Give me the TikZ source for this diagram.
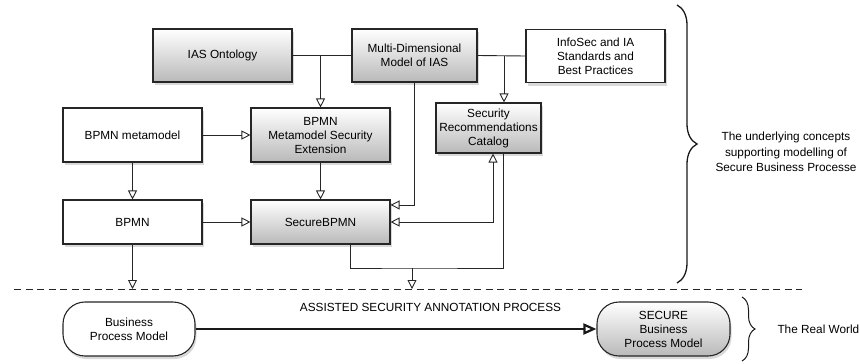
\documentclass[tikz,border=0pt]{standalone}
\usepackage{fontspec}
\setmainfont{Liberation Sans}
\usetikzlibrary{arrows.meta,shadows,decorations.pathreplacing,calc}
\begin{document}
\begin{tikzpicture}[x=1pt,y=-1pt,
  box/.style={draw=black!85, line width=1.1pt, minimum width=139pt, minimum height=53pt,
    align=center, font=\fontsize{11.8}{14}\selectfont, inner sep=2pt,
    drop shadow={shadow xshift=1.5pt, shadow yshift=-3pt, opacity=0.3}},
  wbox/.style={box, fill=white},
  gbox/.style={box, top color=white, bottom color=gray!55},
  conn/.style={line width=0.9pt, draw=black!85},
  tip/.style={-{Triangle[open,length=9pt,width=9pt]}},
  lbl/.style={font=\fontsize{11.8}{14}\selectfont, align=center},
  brc/.style={decorate, line width=1.3pt, draw=black!90},
]
\useasboundingbox (0,0) rectangle (860,364);

\node[gbox] (ias) at (222.5,55.5) {IAS Ontology};
\node[gbox, minimum width=125pt] (multi) at (414.5,55.5) {Multi-Dimensional\\Model of IAS};
\node[wbox] (info) at (595.5,56) {InfoSec and IA\\Standards and\\Best Practices};
\node[wbox, minimum height=54pt] (meta) at (132.5,135) {BPMN metamodel};
\node[gbox, minimum height=54pt] (ext) at (320.5,135) {BPMN\\Metamodel Security\\Extension};
\node[gbox, minimum width=105pt, minimum height=50pt] (rec) at (488.5,128) {Security\\Recommendations\\Catalog};
\node[wbox, minimum height=44pt] (bpmn) at (132.5,222) {BPMN};
\node[gbox, minimum height=44pt] (sec) at (320.5,222) {SecureBPMN};
\node[wbox, minimum width=132pt, minimum height=54pt, rounded corners=22pt] (bpm) at (129,329) {Business\\Process Model};
\node[gbox, minimum width=133pt, minimum height=54pt, rounded corners=22pt] (sbpm) at (663.5,329) {SECURE\\Business\\Process Model};

% top row connections
\draw[conn] (ias.east) -- (multi.west);
\draw[conn] (multi.east) -- (info.west);
\coordinate (j1) at (320.5,55.5);
\coordinate (j2) at (504,55.5);
\draw[conn, tip] (j1) -- (ext.north);
\draw[conn, tip] (j2) -- (j2 |- rec.north);

% middle
\draw[conn, tip] (meta.east) -- (ext.west);
\draw[conn, tip] (meta.south) -- (bpmn.north);
\draw[conn, tip] (ext.south) -- (sec.north);
\draw[conn, tip] (bpmn.east) -- (sec.west);

\coordinate (m1) at ($(sec.north east)+(0,5.5)$);
\draw[conn, tip] (multi.south) |- (m1);
\coordinate (r1) at (493,0);
\draw[conn, {Triangle[open,length=9pt,width=9pt]}-{Triangle[open,length=9pt,width=9pt]}] (sec.east) -| (r1 |- rec.south);

\coordinate (s1) at (350,0);
\coordinate (r2) at (503,0);
\coordinate (jb) at (412,268);
\draw[conn] (s1 |- sec.south) |- (jb) -| (r2 |- rec.south);

% dashed separator
\coordinate (dl) at (14,289);
\coordinate (dr) at (802,289);
\draw[line width=0.9pt, draw=black!85, dash pattern=on 7pt off 4.5pt] (dl) -- (dr);
\draw[conn, tip] (jb) -- (jb |- dl);
\draw[conn, tip] (bpmn.south) -- (bpmn.south |- dl);

% process arrow
\node[lbl] (proc) at (430.5,307) {ASSISTED SECURITY ANNOTATION PROCESS};
\draw[line width=2.2pt, draw=black!90, -{Triangle[open,length=13pt,width=11pt]}] (bpm.east) -- (sbpm.west);

% braces
\coordinate (b1t) at (677,5);
\coordinate (b1b) at (677,283);
\draw[brc, decoration={brace, amplitude=20pt}] (b1t) -- (b1b);
\node[lbl, font=\fontsize{11.8}{15.5}\selectfont] (under) at (786,152) {The underlying concepts\\supporting modelling of\\Secure Business Processe};

\coordinate (b2t) at (742,297);
\coordinate (b2b) at (742,361);
\draw[brc, line width=1pt, decoration={brace, amplitude=13pt}] (b2t) -- (b2b);
\node[lbl, anchor=west] (real) at (774,329) {The Real World};
\end{tikzpicture}
\end{document}
